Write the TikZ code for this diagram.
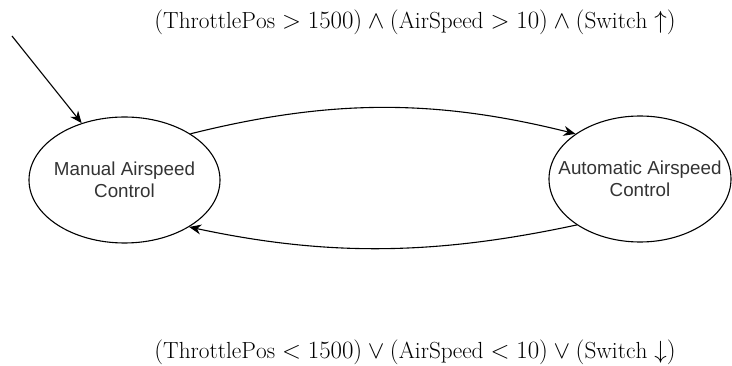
\documentclass[tikz,border=0pt]{standalone}
\usepackage{fontspec}
\newfontfamily\arialfont{Liberation Sans}
\usetikzlibrary{shapes.geometric,arrows.meta}
\tikzset{
  state/.style={draw, ellipse, line width=1.1pt, inner xsep=-20pt, inner ysep=2pt,
    align=center, font=\arialfont\fontsize{18.8}{22}\selectfont, text=black!80},
  trans/.style={line width=1.1pt, -{Stealth[length=12pt,width=10pt]}},
  cond/.style={anchor=base, inner sep=0pt, font=\fontsize{23.3}{27}\selectfont}
}
\begin{document}
\begin{tikzpicture}[x=1pt,y=-1pt]
\useasboundingbox (0,0) rectangle (732,366);
\node[state, minimum width=191pt, minimum height=126pt] (m) at (124.5,180) {Manual Airspeed\\Control};
\node[state, minimum width=182pt, minimum height=126pt] (a) at (640,179) {Automatic Airspeed\\Control};
\coordinate (init) at (12,36);
\draw[trans] (init) -- (m.127);
\draw[trans] (m.35) .. controls +(140,-35) and +(-140,-35) .. (a.145);
\draw[trans] (a.216) .. controls +(-140,30) and +(140,30) .. (m.324);
\node[cond] (c1) at (415,29) {$(\mathrm{ThrottlePos} > 1500) \wedge (\mathrm{AirSpeed} > 10) \wedge (\mathrm{Switch} \uparrow)$};
\node[cond] (c2) at (415,359) {$(\mathrm{ThrottlePos} < 1500) \vee (\mathrm{AirSpeed} < 10) \vee (\mathrm{Switch} \downarrow)$};
\end{tikzpicture}
\end{document}
